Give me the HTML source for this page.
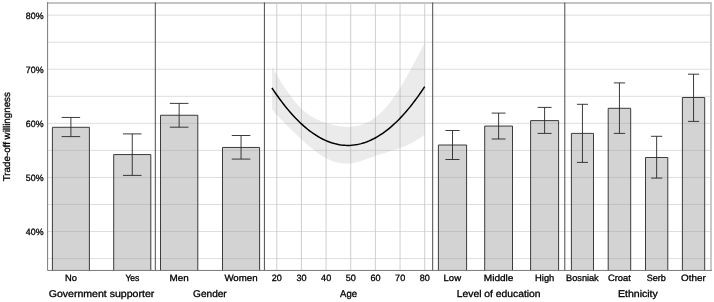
<!DOCTYPE html>
<html><head><meta charset="utf-8"><title>Trade-off willingness</title>
<style>html,body{margin:0;padding:0;background:#fff}svg{display:block}text{font-family:"Liberation Sans",sans-serif;fill:#000;stroke:#000;stroke-width:0.3px;text-rendering:geometricPrecision}</style></head><body>
<svg width="714" height="302" viewBox="0 0 714 302">
<rect width="714" height="302" fill="#fff"/>
<line x1="47.5" x2="711.0" y1="258.60" y2="258.60" stroke="#dedede" stroke-width="1"/>
<line x1="47.5" x2="711.0" y1="231.55" y2="231.55" stroke="#dedede" stroke-width="1"/>
<line x1="47.5" x2="711.0" y1="204.50" y2="204.50" stroke="#dedede" stroke-width="1"/>
<line x1="47.5" x2="711.0" y1="177.45" y2="177.45" stroke="#dedede" stroke-width="1"/>
<line x1="47.5" x2="711.0" y1="150.40" y2="150.40" stroke="#dedede" stroke-width="1"/>
<line x1="47.5" x2="711.0" y1="123.35" y2="123.35" stroke="#dedede" stroke-width="1"/>
<line x1="47.5" x2="711.0" y1="96.30" y2="96.30" stroke="#dedede" stroke-width="1"/>
<line x1="47.5" x2="711.0" y1="69.25" y2="69.25" stroke="#dedede" stroke-width="1"/>
<line x1="47.5" x2="711.0" y1="42.20" y2="42.20" stroke="#dedede" stroke-width="1"/>
<line x1="47.5" x2="711.0" y1="15.15" y2="15.15" stroke="#dedede" stroke-width="1"/>
<line x1="276.75" x2="276.75" y1="3.0" y2="270.3" stroke="#c6c6c6" stroke-width="0.85"/>
<line x1="301.41" x2="301.41" y1="3.0" y2="270.3" stroke="#c6c6c6" stroke-width="0.85"/>
<line x1="326.07" x2="326.07" y1="3.0" y2="270.3" stroke="#c6c6c6" stroke-width="0.85"/>
<line x1="350.73" x2="350.73" y1="3.0" y2="270.3" stroke="#c6c6c6" stroke-width="0.85"/>
<line x1="375.39" x2="375.39" y1="3.0" y2="270.3" stroke="#c6c6c6" stroke-width="0.85"/>
<line x1="400.05" x2="400.05" y1="3.0" y2="270.3" stroke="#c6c6c6" stroke-width="0.85"/>
<line x1="424.71" x2="424.71" y1="3.0" y2="270.3" stroke="#c6c6c6" stroke-width="0.85"/>
<path d="M272.10,67.10 L274.08,70.48 L276.06,73.81 L278.03,77.09 L280.01,80.30 L281.99,83.43 L283.97,86.48 L285.95,89.44 L287.92,92.31 L289.90,95.07 L291.88,97.71 L293.86,100.24 L295.84,102.63 L297.81,104.89 L299.79,107.00 L301.77,108.96 L303.75,110.76 L305.72,112.41 L307.70,113.92 L309.68,115.30 L311.66,116.56 L313.64,117.71 L315.61,118.76 L317.59,119.72 L319.57,120.59 L321.55,121.39 L323.53,122.12 L325.50,122.81 L327.48,123.44 L329.46,124.04 L331.44,124.59 L333.42,125.09 L335.39,125.53 L337.37,125.93 L339.35,126.26 L341.33,126.52 L343.31,126.72 L345.28,126.85 L347.26,126.90 L349.24,126.88 L351.22,126.77 L353.19,126.58 L355.17,126.29 L357.15,125.92 L359.13,125.44 L361.11,124.86 L363.08,124.18 L365.06,123.39 L367.04,122.48 L369.02,121.46 L371.00,120.31 L372.97,119.04 L374.95,117.64 L376.93,116.10 L378.91,114.43 L380.89,112.63 L382.86,110.68 L384.84,108.60 L386.82,106.38 L388.80,104.01 L390.78,101.50 L392.75,98.85 L394.73,96.06 L396.71,93.14 L398.69,90.10 L400.66,86.95 L402.64,83.68 L404.62,80.32 L406.60,76.86 L408.58,73.33 L410.55,69.72 L412.53,66.06 L414.51,62.35 L416.49,58.60 L418.47,54.82 L420.44,51.02 L422.42,47.21 L424.40,43.40 L424.40,134.70 L422.42,136.24 L420.44,137.68 L418.47,139.02 L416.49,140.28 L414.51,141.46 L412.53,142.55 L410.55,143.58 L408.58,144.54 L406.60,145.44 L404.62,146.28 L402.64,147.08 L400.66,147.83 L398.69,148.54 L396.71,149.22 L394.73,149.87 L392.75,150.50 L390.78,151.10 L388.80,151.70 L386.82,152.29 L384.84,152.89 L382.86,153.48 L380.89,154.09 L378.91,154.71 L376.93,155.35 L374.95,156.02 L372.97,156.72 L371.00,157.43 L369.02,158.15 L367.04,158.87 L365.06,159.58 L363.08,160.26 L361.11,160.90 L359.13,161.50 L357.15,162.04 L355.17,162.52 L353.19,162.92 L351.22,163.22 L349.24,163.43 L347.26,163.54 L345.28,163.54 L343.31,163.44 L341.33,163.24 L339.35,162.93 L337.37,162.52 L335.39,162.00 L333.42,161.39 L331.44,160.66 L329.46,159.84 L327.48,158.91 L325.50,157.87 L323.53,156.73 L321.55,155.51 L319.57,154.19 L317.59,152.80 L315.61,151.33 L313.64,149.80 L311.66,148.22 L309.68,146.58 L307.70,144.90 L305.72,143.18 L303.75,141.42 L301.77,139.64 L299.79,137.82 L297.81,135.99 L295.84,134.12 L293.86,132.23 L291.88,130.32 L289.90,128.37 L287.92,126.40 L285.95,124.40 L283.97,122.37 L281.99,120.30 L280.01,118.21 L278.03,116.08 L276.06,113.92 L274.08,111.73 L272.10,109.50 Z" fill="#999" fill-opacity="0.2"/>
<path d="M271.90,87.86 L273.88,90.83 L275.87,93.71 L277.85,96.52 L279.84,99.25 L281.82,101.91 L283.81,104.48 L285.79,106.98 L287.78,109.39 L289.76,111.73 L291.74,113.99 L293.73,116.17 L295.71,118.28 L297.70,120.30 L299.68,122.25 L301.67,124.12 L303.65,125.90 L305.64,127.61 L307.62,129.25 L309.60,130.80 L311.59,132.27 L313.57,133.67 L315.56,134.99 L317.54,136.23 L319.53,137.39 L321.51,138.47 L323.49,139.48 L325.48,140.40 L327.46,141.25 L329.45,142.02 L331.43,142.71 L333.42,143.32 L335.40,143.85 L337.39,144.30 L339.37,144.68 L341.35,144.98 L343.34,145.19 L345.32,145.34 L347.31,145.40 L349.29,145.38 L351.28,145.28 L353.26,145.11 L355.25,144.86 L357.23,144.53 L359.21,144.12 L361.20,143.63 L363.18,143.06 L365.17,142.42 L367.15,141.69 L369.14,140.89 L371.12,140.01 L373.11,139.05 L375.09,138.01 L377.07,136.90 L379.06,135.70 L381.04,134.43 L383.03,133.08 L385.01,131.65 L387.00,130.14 L388.98,128.55 L390.96,126.89 L392.95,125.14 L394.93,123.32 L396.92,121.42 L398.90,119.44 L400.89,117.38 L402.87,115.24 L404.86,113.03 L406.84,110.73 L408.82,108.36 L410.81,105.91 L412.79,103.38 L414.78,100.77 L416.76,98.09 L418.75,95.32 L420.73,92.48 L422.72,89.56 L424.70,86.56" fill="none" stroke="#000" stroke-width="1.5" stroke-linejoin="round"/>
<path d="M52.40,270.3 V127.30 H89.40 V270.3" fill="#999" fill-opacity="0.43" stroke="#333" stroke-width="0.95"/>
<path d="M113.70,270.3 V154.55 H150.80 V270.3" fill="#999" fill-opacity="0.43" stroke="#333" stroke-width="0.95"/>
<path d="M160.50,270.3 V115.25 H197.80 V270.3" fill="#999" fill-opacity="0.43" stroke="#333" stroke-width="0.95"/>
<path d="M222.50,270.3 V147.45 H259.60 V270.3" fill="#999" fill-opacity="0.43" stroke="#333" stroke-width="0.95"/>
<path d="M438.40,270.3 V145.00 H466.60 V270.3" fill="#999" fill-opacity="0.43" stroke="#333" stroke-width="0.95"/>
<path d="M484.70,270.3 V126.05 H512.50 V270.3" fill="#999" fill-opacity="0.43" stroke="#333" stroke-width="0.95"/>
<path d="M530.60,270.3 V120.60 H558.60 V270.3" fill="#999" fill-opacity="0.43" stroke="#333" stroke-width="0.95"/>
<path d="M571.40,270.3 V133.40 H593.50 V270.3" fill="#999" fill-opacity="0.43" stroke="#333" stroke-width="0.95"/>
<path d="M608.20,270.3 V108.30 H630.70 V270.3" fill="#999" fill-opacity="0.43" stroke="#333" stroke-width="0.95"/>
<path d="M645.50,270.3 V157.50 H667.80 V270.3" fill="#999" fill-opacity="0.43" stroke="#333" stroke-width="0.95"/>
<path d="M682.40,270.3 V97.50 H704.70 V270.3" fill="#999" fill-opacity="0.43" stroke="#333" stroke-width="0.95"/>
<path d="M61.65,117.45 H80.15 M70.90,117.45 V136.6 M61.65,136.6 H80.15" fill="none" stroke="#2a2a2a" stroke-width="0.92"/>
<path d="M122.97,133.9 H141.53 M132.25,133.9 V175.4 M122.97,175.4 H141.53" fill="none" stroke="#2a2a2a" stroke-width="0.92"/>
<path d="M169.82,103.4 H188.48 M179.15,103.4 V127.2 M169.82,127.2 H188.48" fill="none" stroke="#2a2a2a" stroke-width="0.92"/>
<path d="M231.78,135.5 H250.33 M241.05,135.5 V159.1 M231.78,159.1 H250.33" fill="none" stroke="#2a2a2a" stroke-width="0.92"/>
<path d="M445.45,130.5 H459.55 M452.50,130.5 V159.5 M445.45,159.5 H459.55" fill="none" stroke="#2a2a2a" stroke-width="0.92"/>
<path d="M491.65,113.1 H505.55 M498.60,113.1 V139.0 M491.65,139.0 H505.55" fill="none" stroke="#2a2a2a" stroke-width="0.92"/>
<path d="M537.60,107.4 H551.60 M544.60,107.4 V133.4 M537.60,133.4 H551.60" fill="none" stroke="#2a2a2a" stroke-width="0.92"/>
<path d="M576.93,104.3 H587.98 M582.45,104.3 V162.4 M576.93,162.4 H587.98" fill="none" stroke="#2a2a2a" stroke-width="0.92"/>
<path d="M613.83,82.9 H625.08 M619.45,82.9 V133.4 M613.83,133.4 H625.08" fill="none" stroke="#2a2a2a" stroke-width="0.92"/>
<path d="M651.08,136.3 H662.22 M656.65,136.3 V178.1 M651.08,178.1 H662.22" fill="none" stroke="#2a2a2a" stroke-width="0.92"/>
<path d="M687.97,74.2 H699.12 M693.55,74.2 V121.4 M687.97,121.4 H699.12" fill="none" stroke="#2a2a2a" stroke-width="0.92"/>
<path d="M47.5,3.0 H711.0 V270.3" fill="none" stroke="#c4c4c4" stroke-width="1.8"/>
<line x1="155.3" x2="155.3" y1="2.5" y2="270.3" stroke="#4a4a4a" stroke-width="1"/>
<line x1="264.4" x2="264.4" y1="2.5" y2="270.3" stroke="#4a4a4a" stroke-width="1"/>
<line x1="432.7" x2="432.7" y1="2.5" y2="270.3" stroke="#4a4a4a" stroke-width="1"/>
<line x1="564.8" x2="564.8" y1="2.5" y2="270.3" stroke="#4a4a4a" stroke-width="1"/>
<path d="M47.6,2.1 V270.45 H711.9" fill="none" stroke="#6a6a6a" stroke-width="0.9"/>
<text x="43.50" y="18.50" font-size="9.2" text-anchor="end" textLength="17.7" lengthAdjust="spacingAndGlyphs">80%</text>
<text x="43.50" y="72.60" font-size="9.2" text-anchor="end" textLength="17.7" lengthAdjust="spacingAndGlyphs">70%</text>
<text x="43.50" y="126.70" font-size="9.2" text-anchor="end" textLength="17.7" lengthAdjust="spacingAndGlyphs">60%</text>
<text x="43.50" y="180.80" font-size="9.2" text-anchor="end" textLength="17.7" lengthAdjust="spacingAndGlyphs">50%</text>
<text x="43.50" y="234.90" font-size="9.2" text-anchor="end" textLength="17.7" lengthAdjust="spacingAndGlyphs">40%</text>
<text x="70.90" y="280.80" font-size="9.2" text-anchor="middle" textLength="11.9" lengthAdjust="spacingAndGlyphs">No</text>
<text x="132.40" y="280.80" font-size="9.2" text-anchor="middle" textLength="14.0" lengthAdjust="spacingAndGlyphs">Yes</text>
<text x="179.20" y="280.80" font-size="9.2" text-anchor="middle" textLength="19.2" lengthAdjust="spacingAndGlyphs">Men</text>
<text x="241.00" y="280.80" font-size="9.2" text-anchor="middle" textLength="33.2" lengthAdjust="spacingAndGlyphs">Women</text>
<text x="452.30" y="280.80" font-size="9.2" text-anchor="middle" textLength="17.4" lengthAdjust="spacingAndGlyphs">Low</text>
<text x="498.60" y="280.80" font-size="9.2" text-anchor="middle" textLength="29.7" lengthAdjust="spacingAndGlyphs">Middle</text>
<text x="544.70" y="280.80" font-size="9.2" text-anchor="middle" textLength="19.3" lengthAdjust="spacingAndGlyphs">High</text>
<text x="582.40" y="280.80" font-size="9.2" text-anchor="middle" textLength="32.6" lengthAdjust="spacingAndGlyphs">Bosniak</text>
<text x="619.40" y="280.80" font-size="9.2" text-anchor="middle" textLength="23.0" lengthAdjust="spacingAndGlyphs">Croat</text>
<text x="656.30" y="280.80" font-size="9.2" text-anchor="middle" textLength="19.2" lengthAdjust="spacingAndGlyphs">Serb</text>
<text x="693.40" y="280.80" font-size="9.2" text-anchor="middle" textLength="24.7" lengthAdjust="spacingAndGlyphs">Other</text>
<text x="276.85" y="280.80" font-size="9.2" text-anchor="middle" textLength="10.1" lengthAdjust="spacingAndGlyphs">20</text>
<text x="301.51" y="280.80" font-size="9.2" text-anchor="middle" textLength="10.1" lengthAdjust="spacingAndGlyphs">30</text>
<text x="326.17" y="280.80" font-size="9.2" text-anchor="middle" textLength="10.1" lengthAdjust="spacingAndGlyphs">40</text>
<text x="350.83" y="280.80" font-size="9.2" text-anchor="middle" textLength="10.1" lengthAdjust="spacingAndGlyphs">50</text>
<text x="375.49" y="280.80" font-size="9.2" text-anchor="middle" textLength="10.1" lengthAdjust="spacingAndGlyphs">60</text>
<text x="400.15" y="280.80" font-size="9.2" text-anchor="middle" textLength="10.1" lengthAdjust="spacingAndGlyphs">70</text>
<text x="424.81" y="280.80" font-size="9.2" text-anchor="middle" textLength="10.1" lengthAdjust="spacingAndGlyphs">80</text>
<text x="101.50" y="296.90" font-size="9.8" text-anchor="middle" textLength="105.6" lengthAdjust="spacingAndGlyphs">Government supporter</text>
<text x="209.90" y="296.90" font-size="9.8" text-anchor="middle" textLength="33.6" lengthAdjust="spacingAndGlyphs">Gender</text>
<text x="348.60" y="296.90" font-size="9.8" text-anchor="middle" textLength="17.0" lengthAdjust="spacingAndGlyphs">Age</text>
<text x="498.70" y="296.90" font-size="9.8" text-anchor="middle" textLength="83.7" lengthAdjust="spacingAndGlyphs">Level of education</text>
<text x="637.90" y="296.90" font-size="9.8" text-anchor="middle" textLength="39.9" lengthAdjust="spacingAndGlyphs">Ethnicity</text>
<text transform="translate(9.85,136.7) rotate(-90)" font-size="9.8" text-anchor="middle" textLength="89.2" lengthAdjust="spacingAndGlyphs">Trade-off willingness</text>
</svg></body></html>
